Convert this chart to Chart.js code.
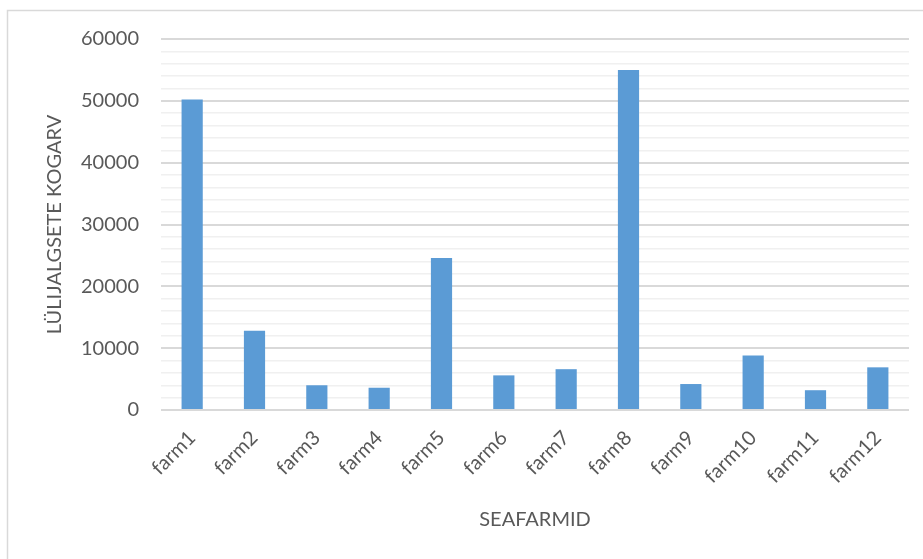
<!DOCTYPE html>
<html>
<head>
<meta charset="utf-8">
<script src="https://cdn.jsdelivr.net/npm/chart.js@4/dist/chart.umd.min.js"></script>
<style>
  html, body { margin: 0; padding: 0; background: #ffffff; }
  #wrap { width: 923px; height: 559px; }
</style>
</head>
<body>
<div id="wrap"><canvas id="c" width="923" height="559"></canvas></div>
<script>
// Arthropod counts per sea farm
const farms = ['farm1', 'farm2', 'farm3', 'farm4', 'farm5', 'farm6',
               'farm7', 'farm8', 'farm9', 'farm10', 'farm11', 'farm12'];
const counts = [50200, 12800, 4000, 3600, 24600, 5600, 6600, 55000, 4200, 8800, 3200, 6900];
const yMax = 60000;
const yStep = 2000;       // minor grid spacing
const yLabelStep = 10000; // labelled ticks

const textColor = '#595959';
const fontFamily = 'Lato, "Open Sans", "Liberation Sans", sans-serif';

// light frame around the whole chart
const framePlugin = {
  id: 'frame',
  beforeDraw(chart) {
    const ctx = chart.ctx;
    ctx.save();
    ctx.fillStyle = '#ffffff';
    ctx.fillRect(0, 0, chart.width, chart.height);
    ctx.strokeStyle = '#d9d9d9';
    ctx.lineWidth = 1.5;
    ctx.strokeRect(7.5, 10.5, chart.width + 20, chart.height + 20);
    ctx.restore();
  }
};

new Chart(document.getElementById('c'), {
  type: 'bar',
  data: {
    labels: farms,
    datasets: [{
      data: counts,
      backgroundColor: '#5b9bd5',
      borderWidth: 0,
      categoryPercentage: 1.0,
      barPercentage: 0.34
    }]
  },
  options: {
    responsive: false,
    animation: false,
    layout: { padding: { left: 0, right: 14, top: 39, bottom: 0 } },
    plugins: { legend: { display: false }, tooltip: { enabled: false } },
    scales: {
      x: {
        grid: { display: false },
        border: { display: false },
        ticks: {
          color: textColor,
          font: { family: fontFamily, size: 20 },
          minRotation: 45,
          maxRotation: 45,
          padding: 8
        },
        title: {
          display: true,
          text: 'SEAFARMID',
          color: textColor,
          font: { family: fontFamily, size: 20 },
          padding: { top: 0, bottom: 27 }
        },
        afterFit(scale) { scale.height = 559 - 410; }
      },
      y: {
        min: 0,
        max: yMax,
        border: { display: false },
        grid: {
          drawTicks: false,
          color: ctx => (ctx.tick && ctx.tick.value % yLabelStep === 0) ? '#d9d9d9' : '#f0f0f0',
          lineWidth: ctx => (ctx.tick && ctx.tick.value % yLabelStep === 0) ? 2 : 1.5
        },
        ticks: {
          stepSize: yStep,
          autoSkip: false,
          color: textColor,
          font: { family: fontFamily, size: 20 },
          padding: 22,
          callback: v => (v % yLabelStep === 0 ? String(v) : '')
        },
        title: {
          display: true,
          text: 'LÜLIJALGSETE KOGARV',
          color: textColor,
          font: { family: fontFamily, size: 20 },
          padding: { top: 43, bottom: 0 }
        },
        afterFit(scale) { scale.width = 161; }
      }
    }
  },
  plugins: [framePlugin]
});
</script>
</body>
</html>
